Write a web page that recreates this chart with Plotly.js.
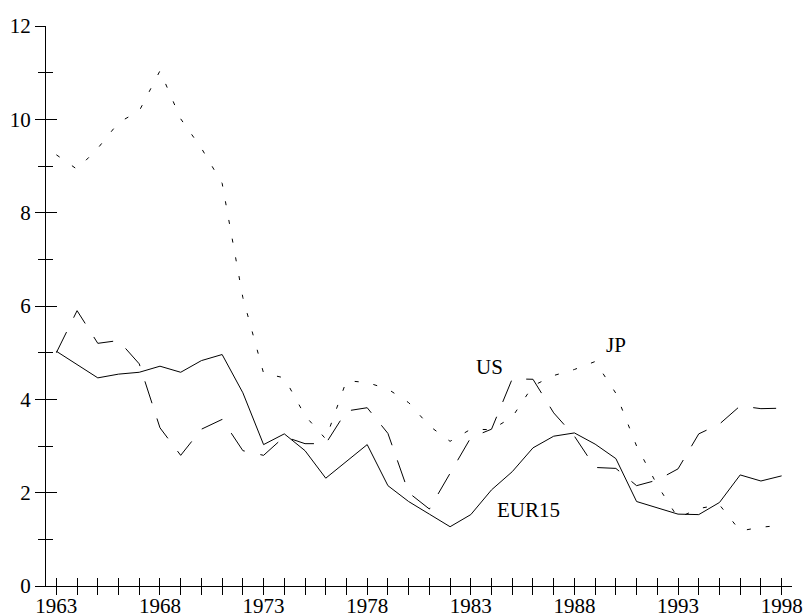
<!DOCTYPE html>
<html>
<head>
<meta charset="utf-8">
<script src="https://cdn.plot.ly/plotly-3.0.1.min.js"></script>
<style>
  html, body { margin: 0; padding: 0; background: #fff; }
  #chart { width: 804px; height: 613px; }
</style>
</head>
<body>
<div id="chart"></div>
<script>
// Annual series, 1963-1998
const years = [1963,1964,1965,1966,1967,1968,1969,1970,1971,1972,
               1973,1974,1975,1976,1977,1978,1979,1980,1981,1982,
               1983,1984,1985,1986,1987,1988,1989,1990,1991,1992,
               1993,1994,1995,1996,1997,1998];

const eur15 = [5.03,4.74,4.46,4.54,4.58,4.71,4.58,4.83,4.96,4.14,
               3.03,3.26,2.90,2.31,2.66,3.03,2.15,1.81,1.54,1.27,
               1.53,2.06,2.45,2.96,3.21,3.28,3.04,2.73,1.81,1.67,
               1.54,1.53,1.79,2.38,2.25,2.36];

const us = [5.00,5.90,5.20,5.26,4.76,3.39,2.80,3.36,3.57,2.90,
            2.80,3.20,3.05,3.05,3.75,3.82,3.27,2.00,1.65,2.42,
            3.18,3.36,4.44,4.43,3.71,3.21,2.54,2.52,2.15,2.27,
            2.51,3.26,3.47,3.86,3.80,3.81];

const jp = [9.24,8.93,9.38,9.93,10.18,11.04,10.01,9.38,8.63,6.18,
            4.56,4.46,3.65,3.15,4.40,4.36,4.22,3.93,3.43,3.10,
            3.36,3.35,3.62,4.29,4.51,4.64,4.81,4.13,3.00,2.16,
            1.46,1.66,1.74,1.18,1.26,1.30];

const labeledYears = [1963,1968,1973,1978,1983,1988,1993,1998];
const yTickVals = [0,2,4,6,8,10,12];

// Series name labels placed next to the curves
const seriesLabels = ["EUR15", "US", "JP"];
const labelX = [1985.8, 1983.9, 1990.0];
const labelY = [1.63, 4.70, 5.17];

const serif = '"Liberation Serif", "Times New Roman", Times, serif';
const ink = "#000";

// Curves live on the overlay axes (x2/y2), which share the ranges of x/y
const traces = [
  { x: years, y: eur15, name: "EUR15", type: "scatter", mode: "lines",
    xaxis: "x2", yaxis: "y2", line: { color: ink, width: 1 } },
  { x: years, y: us, name: "US", type: "scatter", mode: "lines",
    xaxis: "x2", yaxis: "y2", line: { color: ink, width: 1, dash: "23px,16px" } },
  { x: years, y: jp, name: "JP", type: "scatter", mode: "lines",
    xaxis: "x2", yaxis: "y2", line: { color: ink, width: 1, dash: "4px,15px" } }
];

const xRange = [1962.5, 1998.5];
const yRange = [0, 12];

// Main axes: line, labels and the inner half of each tick.
// Overlay axes: the outer half of each tick, so ticks cross the axis line.
const layout = {
  width: 804, height: 613,
  margin: { l: 46, r: 12, t: 26, b: 27 },
  paper_bgcolor: "#fff", plot_bgcolor: "rgba(0,0,0,0)",
  showlegend: false,
  font: { family: serif, size: 21, color: ink },
  xaxis: {
    range: xRange, showgrid: false, zeroline: false,
    showline: true, linecolor: ink, linewidth: 1,
    tickvals: labeledYears, ticks: "inside", ticklen: 8, tickwidth: 1, tickcolor: ink,
    ticklabelstandoff: 1,
    minor: { tick0: 1963, dtick: 1, ticks: "inside", ticklen: 8, tickwidth: 1, tickcolor: ink, showgrid: false },
    tickfont: { family: serif, size: 21, color: ink }
  },
  xaxis2: {
    range: xRange, overlaying: "x", anchor: "y", side: "bottom",
    showgrid: false, zeroline: false, showline: false, showticklabels: false,
    tickvals: labeledYears, ticks: "outside", ticklen: 8, tickwidth: 1, tickcolor: ink,
    minor: { tick0: 1963, dtick: 1, ticks: "outside", ticklen: 8, tickwidth: 1, tickcolor: ink, showgrid: false }
  },
  yaxis: {
    range: yRange, showgrid: false, zeroline: false,
    showline: true, linecolor: ink, linewidth: 1,
    tickvals: yTickVals, ticks: "inside", ticklen: 11, tickwidth: 1, tickcolor: ink,
    ticklabelstandoff: 10,
    minor: { tick0: 0, dtick: 1, ticks: "inside", ticklen: 7, tickwidth: 1, tickcolor: ink, showgrid: false },
    tickfont: { family: serif, size: 21, color: ink }
  },
  yaxis2: {
    range: yRange, overlaying: "y", anchor: "x", side: "left",
    showgrid: false, zeroline: false, showline: false, showticklabels: false,
    tickvals: yTickVals, ticks: "outside", ticklen: 10, tickwidth: 1, tickcolor: ink,
    minor: { tick0: 0, dtick: 1, ticks: "outside", ticklen: 7, tickwidth: 1, tickcolor: ink, showgrid: false }
  },
  annotations: seriesLabels.map((t, i) => ({
    x: labelX[i], y: labelY[i], xref: "x", yref: "y",
    text: t, showarrow: false,
    font: { family: serif, size: 21, color: ink }
  }))
};

Plotly.newPlot("chart", traces, layout, { staticPlot: true, displayModeBar: false });
</script>
</body>
</html>
